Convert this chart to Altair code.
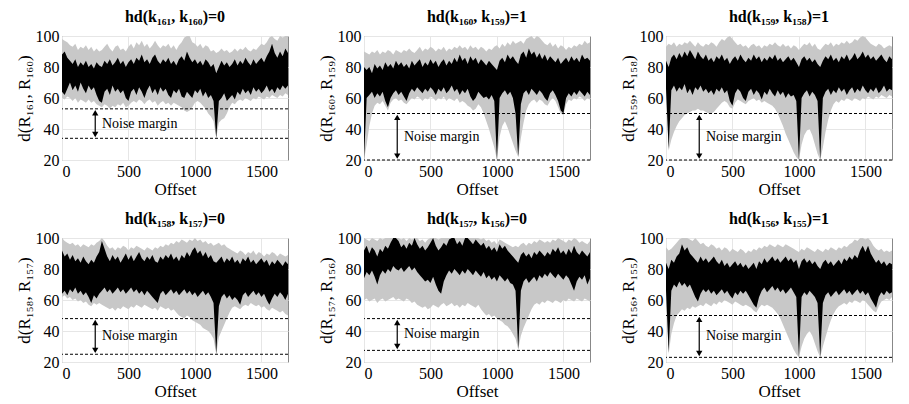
import altair as alt
import pandas as pd
import numpy as np

# ---------------- data (offset grid step 20 from 0 to 1700) ----------------
PAIRS = [("161", "160", 0), ("160", "159", 1), ("159", "158", 1),
         ("158", "157", 0), ("157", "156", 0), ("156", "155", 1)]
UPPER = [53, 50, 50, 48, 48, 50]      # upper dashed line (noise margin top)
LOWER = [34, 20, 20, 25, 27.5, 23]    # lower dashed line (noise margin bottom)
ARROW_X = 250
TEXT_X = 300

BHI1 = [88,90,86,84,82,85,80,83,81,84,80,82,79,83,81,80,84,82,85,81,83,86,82,84,80,83,85,82,86,84,88,83,85,82,86,88,84,82,85,83,86,82,84,81,85,87,84,90,86,83,85,82,84,81,85,83,80,82,76,80,84,81,83,80,82,85,81,84,82,86,83,81,85,82,84,86,83,87,90,95,89,86,90,87,92,89]
BLO1 = [64,62,66,70,65,68,64,70,66,63,68,65,67,62,58,57,64,66,62,68,64,66,63,65,60,58,64,66,62,67,64,60,65,68,63,66,62,67,64,66,62,60,65,63,66,61,60,64,62,60,65,63,66,61,64,60,62,58,34,58,60,63,58,60,62,59,64,62,66,63,65,62,67,64,66,63,65,68,64,66,63,67,65,68,66,68]
GHI1 = [98,97,96,94,93,95,91,93,92,94,91,93,90,92,90,91,93,95,92,90,93,94,91,92,90,93,95,92,96,94,97,93,95,92,94,97,94,92,94,93,95,92,94,91,94,96,99,100,100,96,95,93,95,92,94,93,90,91,89,90,92,90,91,89,90,92,90,92,91,93,91,90,92,91,93,95,94,96,99,100,98,97,100,99,100,100]
GLO1 = [60,59,61,60,58,60,57,59,58,57,59,57,58,56,55,54,56,55,53,55,54,56,55,57,54,55,57,58,57,59,58,56,58,59,57,58,55,57,58,56,57,55,57,56,55,54,52,51,52,54,57,58,57,55,53,50,48,45,34,44,46,47,50,54,57,56,58,59,58,60,59,58,60,59,61,60,59,61,60,62,61,60,62,61,63,62]

BHI2 = [80,78,80,76,82,79,81,78,83,80,82,79,84,81,83,80,82,79,84,81,83,85,80,83,81,85,82,84,80,83,85,81,84,82,86,83,88,84,86,82,87,84,86,82,85,83,81,84,82,80,78,84,86,83,88,85,87,84,82,88,90,86,92,88,90,86,89,85,88,84,87,85,83,86,82,84,86,83,87,84,86,83,88,85,86,84]
BLO2 = [20,60,62,64,60,63,61,64,58,54,60,63,65,62,64,61,58,63,66,64,67,65,63,66,64,67,65,62,66,64,67,63,65,68,64,66,62,65,63,66,61,58,60,64,62,60,61,59,62,58,20,60,63,65,62,64,60,50,22,56,63,65,62,66,64,62,65,63,60,58,63,65,62,58,52,50,60,63,61,64,62,65,63,61,64,62]
GHI2 = [90,89,88,90,89,91,88,90,89,91,90,88,91,90,89,91,90,92,90,89,91,93,90,92,91,93,92,90,92,91,93,90,92,91,93,92,94,92,93,91,94,92,93,91,93,92,90,92,91,93,94,92,95,93,96,94,97,95,96,97,95,98,99,100,98,100,99,97,95,94,96,93,95,92,94,93,91,93,92,94,93,95,94,97,95,96]
GLO2 = [20,30,42,50,55,57,56,58,55,52,57,59,60,58,59,57,56,58,60,59,61,60,58,60,59,61,60,58,60,59,61,58,60,59,58,60,57,58,57,55,54,52,53,56,54,50,45,40,34,28,20,35,42,45,41,36,31,26,22,34,44,52,56,58,59,57,59,58,56,55,58,60,58,54,50,49,56,59,58,60,59,61,60,58,60,59]

BHI3 = [84,80,86,88,85,89,86,90,87,91,88,85,90,87,85,88,84,86,83,87,85,88,84,86,82,85,87,84,88,85,83,86,84,88,85,87,83,86,84,87,85,88,84,86,83,85,87,84,86,83,80,85,87,84,86,83,85,82,80,84,87,85,88,84,86,83,87,85,88,84,86,89,85,87,90,86,88,85,87,84,86,88,85,83,87,85]
BLO3 = [66,27,65,68,64,67,65,69,63,66,62,67,65,68,64,66,63,65,62,66,64,67,63,65,58,55,63,66,64,60,58,64,66,62,65,63,59,64,62,66,63,61,65,62,64,60,63,61,62,58,20,60,63,65,61,64,62,58,20,60,64,66,62,65,63,67,64,66,62,65,67,63,66,64,68,65,63,66,64,67,63,65,68,64,66,65]
GHI3 = [93,95,94,96,93,95,94,96,95,97,95,93,96,94,93,95,94,96,95,93,96,98,97,99,100,98,96,94,95,93,94,92,94,95,93,94,92,94,93,95,94,96,94,93,95,93,94,92,94,93,91,93,95,94,96,93,95,92,91,93,95,94,96,93,95,94,96,95,97,95,96,98,97,99,100,99,97,95,94,93,95,94,92,93,94,93]
GLO3 = [62,26,33,38,42,45,47,49,50,51,52,52,53,52,52,51,50,50,51,53,55,57,58,57,54,53,57,59,58,57,56,58,59,60,58,59,57,58,57,56,55,53,50,46,42,37,33,29,25,22,20,30,36,39,40,36,30,24,20,28,38,46,52,56,58,57,59,58,60,59,58,60,59,58,60,59,61,60,59,61,60,62,61,60,62,61]

BHI4 = [92,88,90,86,89,85,87,84,88,85,83,86,84,88,91,98,93,88,85,89,86,88,84,87,90,86,89,85,88,91,87,85,88,86,89,85,84,88,86,89,87,90,86,88,85,89,87,91,88,92,94,90,92,88,91,87,89,85,84,86,88,84,87,85,88,84,86,83,87,85,88,84,86,83,85,87,84,86,82,85,83,86,84,82,85,83]
BLO4 = [64,66,63,67,65,68,64,66,63,65,62,58,63,61,64,66,68,65,67,64,66,68,65,67,64,66,68,65,67,64,66,63,66,64,62,60,58,64,66,63,65,67,64,66,63,65,67,64,66,63,65,62,64,66,63,65,62,58,25,56,62,64,61,63,60,62,60,57,63,65,62,64,66,63,65,62,64,60,57,61,64,62,65,63,60,64]
GHI4 = [100,98,97,96,97,95,96,94,96,95,94,96,95,97,98,100,98,95,93,94,92,94,93,95,94,92,94,93,95,94,93,92,94,93,92,94,93,95,94,96,95,97,96,98,97,99,98,97,99,98,100,98,99,97,98,96,97,95,96,97,95,96,94,93,92,91,90,92,91,89,91,90,92,89,91,90,88,90,89,91,90,88,90,89,88,89]
GLO4 = [62,63,61,62,60,61,59,60,58,59,57,56,58,57,58,57,56,55,54,55,53,55,54,56,55,54,56,55,57,56,55,57,56,55,54,55,53,56,55,54,55,53,54,52,50,49,48,50,49,47,46,45,44,42,41,40,38,35,25,36,40,44,48,52,55,56,55,54,56,57,56,58,57,56,57,55,56,54,53,55,54,53,52,53,51,50]

BHI5 = [92,95,90,94,92,88,93,91,95,93,97,100,100,98,94,96,93,97,95,100,96,93,95,92,94,97,100,95,92,94,97,95,99,100,100,96,98,95,100,100,98,96,99,97,95,97,93,95,92,94,91,96,93,95,92,90,88,86,84,89,91,88,90,87,91,89,92,90,88,91,89,93,91,94,90,92,89,93,90,95,91,89,92,90,88,91]
BLO5 = [74,78,76,79,75,70,76,79,77,80,78,82,80,79,81,78,80,82,79,81,78,76,74,72,73,71,75,70,66,64,72,76,79,77,80,78,76,79,77,80,78,76,79,77,75,78,74,76,73,75,72,76,74,72,74,71,70,66,28,66,72,74,71,73,75,72,76,74,77,75,78,76,74,77,75,73,76,74,70,66,72,75,73,76,70,74]
GHI5 = [100,99,98,100,99,98,100,99,100,100,100,100,100,100,99,100,98,100,99,100,100,98,99,97,99,100,100,100,99,100,100,100,100,100,100,100,100,100,100,100,100,100,100,100,99,100,98,99,97,98,96,99,98,97,96,95,94,95,94,96,97,95,97,96,98,97,99,98,97,98,97,99,98,100,99,98,97,99,98,100,99,97,98,97,96,98]
GLO5 = [60,61,59,60,61,58,60,61,59,60,61,62,60,61,60,59,61,60,58,59,57,56,55,56,54,55,57,56,55,57,58,56,57,58,56,57,55,57,56,58,57,56,55,57,54,52,50,51,49,50,48,47,46,44,43,41,38,35,28,37,42,46,50,54,57,58,57,59,58,60,59,58,60,59,58,60,59,61,60,59,61,60,59,61,60,59]

BHI6 = [84,80,86,84,88,90,96,92,94,90,88,86,84,88,85,87,84,86,88,85,83,86,82,84,81,83,85,82,84,81,83,80,82,84,80,85,83,87,84,86,88,85,87,84,86,88,85,87,84,86,80,85,87,84,86,83,85,82,80,84,86,83,85,82,84,86,83,87,85,88,86,89,87,92,95,91,95,90,87,84,86,83,85,82,84,83]
BLO6 = [66,26,66,70,68,72,69,71,68,70,66,62,59,64,67,65,67,64,66,63,65,67,64,66,63,61,65,63,66,64,66,63,60,57,55,62,66,68,65,67,69,66,68,65,67,64,66,68,65,62,23,62,65,63,66,64,62,58,23,58,63,65,62,64,66,63,65,67,64,66,63,65,67,64,66,63,65,61,58,55,62,65,63,66,64,65]
GHI6 = [94,92,93,95,97,99,100,100,100,99,98,100,98,96,97,95,94,96,95,93,94,92,94,93,91,93,92,91,93,92,90,92,91,93,92,94,93,95,94,96,95,94,96,95,94,96,95,94,93,92,91,93,92,94,93,92,91,93,92,91,93,92,94,93,92,94,93,95,94,96,97,99,98,100,100,99,100,98,95,93,92,93,91,92,91,92]
GLO6 = [60,25,38,45,50,52,54,53,55,54,56,55,56,57,56,58,57,56,58,57,59,58,60,59,58,57,59,58,57,56,57,56,55,53,52,55,57,56,57,56,55,53,51,48,44,40,36,32,28,25,23,30,35,38,40,37,32,27,23,30,36,42,47,51,54,56,57,58,57,59,58,60,59,58,60,59,57,55,53,52,56,59,60,61,60,62]

GRAY_HI = [GHI1, GHI2, GHI3, GHI4, GHI5, GHI6]
GRAY_LO = [GLO1, GLO2, GLO3, GLO4, GLO5, GLO6]
BLACK_HI = [BHI1, BHI2, BHI3, BHI4, BHI5, BHI6]
BLACK_LO = [BLO1, BLO2, BLO3, BLO4, BLO5, BLO6]

X_TICKS = [0, 500, 1000, 1500]
Y_TICKS = [20, 40, 60, 80, 100]

SUB = str.maketrans("0123456789", "₀₁₂₃₄₅₆₇₈₉")
FONT = "'Liberation Serif', 'Times New Roman', serif"
PW, PH = 226, 124


def panel(i):
    a, b, h = PAIRS[i]
    n = min(len(GRAY_HI[i]), len(GRAY_LO[i]), len(BLACK_HI[i]), len(BLACK_LO[i]))
    df = pd.DataFrame({
        "offset": np.linspace(0, 1700, n),
        "ghi": GRAY_HI[i][:n], "glo": GRAY_LO[i][:n],
        "bhi": BLACK_HI[i][:n], "blo": BLACK_LO[i][:n],
    })
    title = f"hd(k{a.translate(SUB)}, k{b.translate(SUB)})={h}"
    ylab = f"d(R{a.translate(SUB)}, R{b.translate(SUB)})"

    xs = alt.Scale(domain=[0, 1700], nice=False, zero=False)
    ys = alt.Scale(domain=[20, 100], nice=False, zero=False, clamp=True)
    xax = alt.Axis(values=X_TICKS, title="Offset", format="d")
    yax = alt.Axis(values=Y_TICKS, title=ylab)

    def X(f):
        return alt.X(f, scale=xs, axis=xax)

    def Y(f):
        return alt.Y(f, scale=ys, axis=yax)

    base = alt.Chart(df)
    gray = base.mark_area(color="#c8c8c8", clip=True).encode(
        x=X("offset:Q"), y=Y("glo:Q"), y2="ghi:Q",
    )
    black = base.mark_area(color="#000000", clip=True).encode(
        x=X("offset:Q"), y=Y("blo:Q"), y2="bhi:Q",
    )
    lv = pd.DataFrame({"level": [UPPER[i], LOWER[i]]})
    dashes = alt.Chart(lv).mark_rule(color="black", strokeDash=[3, 2], strokeWidth=1).encode(
        y=Y("level:Q")
    )
    arr = pd.DataFrame({"x": [ARROW_X], "lo": [LOWER[i] + 2], "hi": [UPPER[i] - 2]})
    shaft = alt.Chart(arr).mark_rule(color="black", strokeWidth=1.2).encode(
        x=X("x:Q"), y=Y("lo:Q"), y2="hi:Q",
    )
    heads = pd.DataFrame({
        "x": [ARROW_X, ARROW_X],
        "y": [UPPER[i] - 2.5, LOWER[i] + 2.5],
        "shape": ["triangle-up", "triangle-down"],
    })
    tri = alt.Chart(heads).mark_point(filled=True, color="black", opacity=1, size=40).encode(
        x=X("x:Q"), y=Y("y:Q"),
        shape=alt.Shape("shape:N", scale=alt.Scale(domain=["triangle-up", "triangle-down"],
                                                   range=["triangle-up", "triangle-down"]), legend=None),
    )
    txt_df = pd.DataFrame({"x": [TEXT_X], "y": [(UPPER[i] + LOWER[i]) / 2], "t": ["Noise margin"]})
    txt = alt.Chart(txt_df).mark_text(align="left", baseline="middle", font=FONT, fontSize=14,
                                      color="black").encode(
        x=X("x:Q"), y=Y("y:Q"), text="t:N",
    )
    return alt.layer(gray, black, dashes, shaft, tri, txt).properties(
        width=PW, height=PH,
        title=alt.TitleParams(title, font=FONT, fontSize=16, fontWeight="bold", offset=3, color="black"),
    )


row1 = alt.hconcat(panel(0), panel(1), panel(2), spacing=27)
row2 = alt.hconcat(panel(3), panel(4), panel(5), spacing=27)
chart = alt.vconcat(row1, row2, spacing=12).properties(
    padding={"left": 6, "top": 0, "right": 0, "bottom": 0}
).configure_axis(
    labelFont=FONT, titleFont=FONT, labelFontSize=16, titleFontSize=17,
    titleFontWeight="normal", labelColor="black", titleColor="black",
    gridColor="#e6e6e6", domain=False, ticks=False, labelPadding=3, titlePadding=2,
).configure_view(stroke="#888888", strokeWidth=1)

chart.save("out.html", embed_options={"renderer": "svg", "actions": False})
